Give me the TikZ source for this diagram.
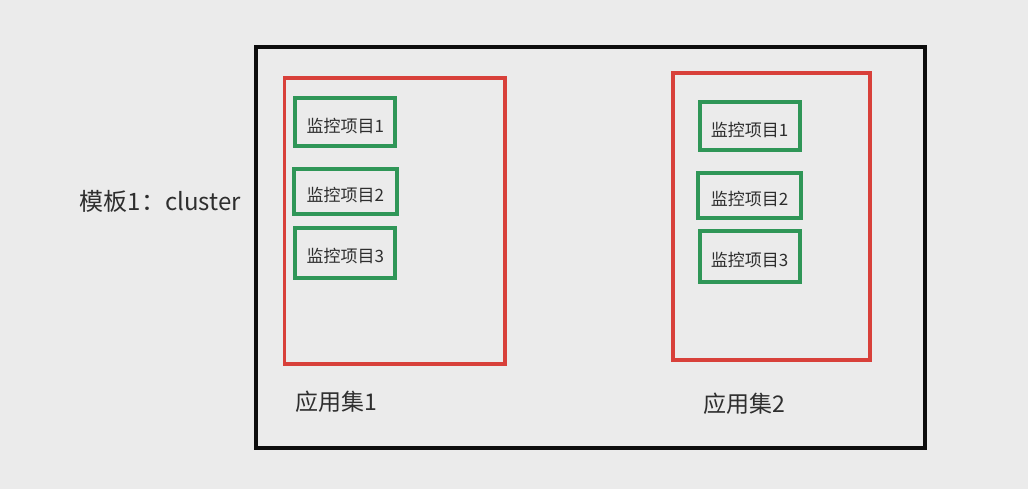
\documentclass[tikz,border=0pt]{standalone}
\usepackage{fontspec}
\setmainfont{Noto Sans CJK SC}
\usepackage{tikz}
\usetikzlibrary{arrows,shapes}
\usetikzlibrary{positioning,fit}
\definecolor{bggray}{HTML}{EBEBEB}
\definecolor{setred}{HTML}{D8403A}
\definecolor{itemgreen}{HTML}{2F9657}
\definecolor{txtgray}{HTML}{2E2E2E}
\tikzstyle{frame} = [draw=black!95, rectangle, line width=4pt, inner sep=0pt]
\tikzstyle{appset} = [draw=setred, rectangle, line width=3.6pt, inner sep=0pt]
\tikzstyle{item} = [draw=itemgreen, rectangle, line width=4pt, inner sep=0pt,
    minimum width=100pt, minimum height=48pt, text=txtgray,
    text height=21pt, text depth=1pt,
    font=\fontsize{17}{20}\selectfont]
\tikzstyle{setname} = [text=txtgray, inner sep=0pt, font=\fontsize{23}{26}\selectfont]

\begin{document}
\begin{tikzpicture}[x=1pt, y=-1pt, node distance = 69pt]
  % background and bounds
  \fill[bggray] (0,0) rectangle (1028,489);
  \useasboundingbox (0,0) rectangle (1028,489);
  % template frame
  \node [frame, minimum width=669pt, minimum height=401pt] (tmpl) at (590.4,247.5) {};
  \node [setname, font=\fontsize{24}{28}\selectfont] (tmplname) at (160.3,201.5) {模板1：cluster};
  % application sets
  \node [appset, minimum width=220.4pt, minimum height=286pt] (set1) at (394.5,221) {};
  \node [appset, minimum width=197pt, minimum height=287.3pt] (set2) at (771.5,216.4) {};
  \node [setname] (set1name) at (336.5,401.7) {应用集1};
  \node [setname] (set2name) at (744.3,404) {应用集2};
  % monitoring items, set 1
  \node [item] (item11) at (345.3,122.5) {监控项目1};
  \node [item, below of=item11, minimum width=102.7pt, minimum height=44.7pt] (item12) {监控项目2};
  \node [item, below of=item12, node distance=61.3pt, minimum height=50pt] (item13) {监控项目3};
  % monitoring items, set 2
  \node [item] (item21) at (749.7,126.2) {监控项目1};
  \node [item, below of=item21, minimum width=103.3pt, minimum height=45.3pt] (item22) {监控项目2};
  \node [item, below of=item22, node distance=61.4pt, minimum height=50.7pt] (item23) {监控项目3};
\end{tikzpicture}
\end{document}
